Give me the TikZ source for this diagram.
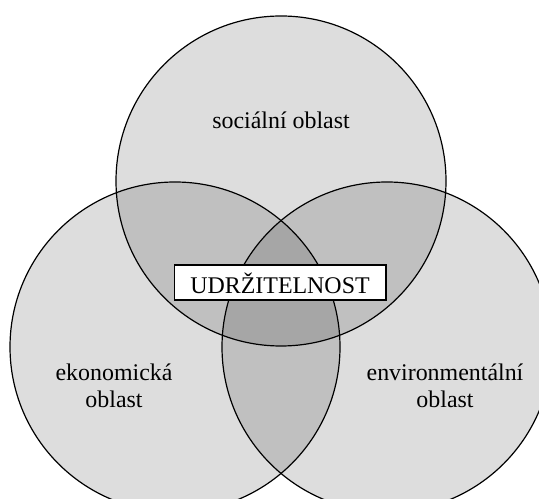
\documentclass[tikz,border=0pt]{standalone}
\usepackage{fontspec}
\setmainfont{Liberation Serif}
\usetikzlibrary{positioning}

\begin{document}
\begin{tikzpicture}[x=1bp, y=1bp]
    \useasboundingbox (0,0) rectangle (539,499);
    \clip (0,0) rectangle (539,499);
    \node[circle, draw, line width=1.2pt, minimum size=330bp, fill=black, fill opacity=0.135] (soc) at (281,318) {};
    \node[circle, draw, line width=1.2pt, minimum size=330bp, fill=black, fill opacity=0.135] (eko) at (175,152) {};
    \node[circle, draw, line width=1.2pt, minimum size=330bp, fill=black, fill opacity=0.135] (env) at (387,152) {};

    \node[font=\fontsize{24}{27}\selectfont] (socl) at (281,379) {sociální oblast};
    \node[font=\fontsize{24}{27}\selectfont, align=center] (ekol) at (114,113) {ekonomická\\oblast};
    \node[font=\fontsize{24}{27}\selectfont, align=center] (envl) at (445,113) {environmentální\\oblast};

    \node[draw, fill=white, line width=2pt, minimum width=211bp, minimum height=35bp, font=\fontsize{24}{27}\selectfont] (udr) at (280,216) {UDRŽITELNOST};
\end{tikzpicture}
\end{document}
